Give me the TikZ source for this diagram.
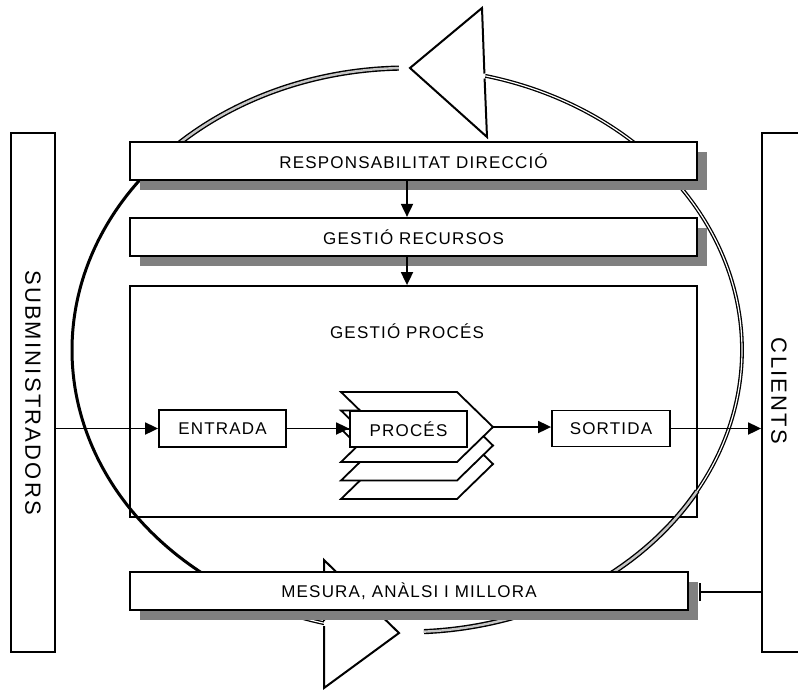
\documentclass[tikz,border=0pt]{standalone}
\usepackage{fontspec}
\setmainfont{Liberation Sans}
\newfontfamily\boxfont[LetterSpace=7]{Liberation Sans}
\newfontfamily\sidefont[LetterSpace=10]{Liberation Sans}
\usetikzlibrary{arrows.meta,shadows}
\begin{document}
\begin{tikzpicture}[x=1pt,y=-1pt,
  boxtext/.style={font=\boxfont\fontsize{17pt}{20pt}\selectfont},
  sidetext/.style={font=\sidefont\fontsize{22pt}{26pt}\selectfont, rotate=-90},
  plainbox/.style={draw, line width=1.8pt, fill=white, inner sep=0pt, boxtext},
  shadowbox/.style={plainbox, line width=2.2pt, drop shadow={shadow xshift=10pt, shadow yshift=-10pt, fill=gray, opacity=1}},
  conn/.style={line width=1.8pt, -{Triangle[length=13pt,width=12pt]}},
  barconn/.style={line width=1.8pt, -{Bar[width=18pt,line width=2.4pt]}},
  arcgrey/.style={line width=1.4pt, double=gray!45, double distance=2.4pt},
  arcwhite/.style={line width=1.3pt, double=white, double distance=1.2pt},
  arcblack/.style={line width=3pt},
  tri/.style={draw, fill=white, line width=2pt},
  chevron/.pic={\draw[line width=1.8pt, fill=white] (0,0) -- (116,0) -- (152,35) -- (116,70) -- (0,70) -- (36,35) -- cycle;}
]
\useasboundingbox (0,0) rectangle (798,689);

% process frame
\node[draw, line width=1.8pt, minimum width=567pt, minimum height=231pt, inner sep=0pt] (gp) at (413.5,401.5) {};
\node[boxtext] (gpl) at (407,331) {GESTIÓ PROCÉS};

% cycle ellipse
\begin{scope}[shift={(407,350)}]
\draw[arcgrey] ({335*cos(-91.4)},{282*sin(-91.4)}) arc[start angle=-91.4, end angle=-142, x radius=335, y radius=282];
\draw[arcblack] ({335*cos(-142)},{282*sin(-142)}) arc[start angle=-142, end angle=-250, x radius=335, y radius=282];
\draw[arcwhite] ({335*cos(-250)},{282*sin(-250)}) arc[start angle=-250, end angle=-255.7, x radius=335, y radius=282];
\draw[arcgrey] ({335*cos(87.1)},{282*sin(87.1)}) arc[start angle=87.1, end angle=30, x radius=335, y radius=282];
\draw[arcwhite] ({335*cos(30)},{282*sin(30)}) arc[start angle=30, end angle=-76.5, x radius=335, y radius=282];
\end{scope}

% arrowheads of the cycle
\draw[tri] (484.6,78.5) -- (487,137) -- (410,68) -- (482,8) -- (484.4,73.5);
\draw[tri] (324,621) -- (324,560) -- (399,633) -- (324,688) -- (324,626);

% shaded boxes
\node[shadowbox, minimum width=567pt, minimum height=38pt] (resp) at (413.5,161) {RESPONSABILITAT DIRECCIÓ};
\node[shadowbox, minimum width=567pt, minimum height=38pt] (gr) at (413.5,237) {GESTIÓ RECURSOS};
\node[shadowbox, minimum width=558pt, minimum height=38pt] (mes) at (409,591) {MESURA, ANÀLSI I MILLORA};

% side boxes
\node[plainbox, minimum width=44pt, minimum height=519pt] (sub) at (33,392.5) {};
\node[sidetext] (subl) at (sub.center) {SUBMINISTRADORS};
\node[plainbox, minimum width=48pt, minimum height=519pt] (cli) at (786,392.5) {};
\node[sidetext] (clil) at (779,391) {CLIENTS};

% process chain
\node[plainbox, minimum width=127pt, minimum height=37pt] (ent) at (222.5,428.5) {ENTRADA};
\pic at (341,429) {chevron};
\pic at (341,410.5) {chevron};
\pic at (341,392) {chevron};
\coordinate (ptip) at (493,427);
\node[plainbox, minimum width=117pt, minimum height=36pt] (proc) at (408.5,429) {PROCÉS};
\node[plainbox, minimum width=118pt, minimum height=36pt] (sort) at (611,428.5) {SORTIDA};

% connectors
\draw[conn] (resp.south -| gpl) -- (gr.north -| gpl);
\draw[conn] (gr.south -| gpl) -- (gp.north -| gpl);
\draw[conn] (sub.east |- ent.west) -- (ent.west);
\draw[conn] (ent.east) -- (ent.east -| proc.west);
\draw[conn] (ptip) -- (ptip -| sort.west);
\draw[conn] (sort.east) -- (sort.east -| cli.west);
\coordinate (mesend) at (699,592);
\draw[barconn] (cli.west |- mesend) -- (mesend);
\end{tikzpicture}
\end{document}
